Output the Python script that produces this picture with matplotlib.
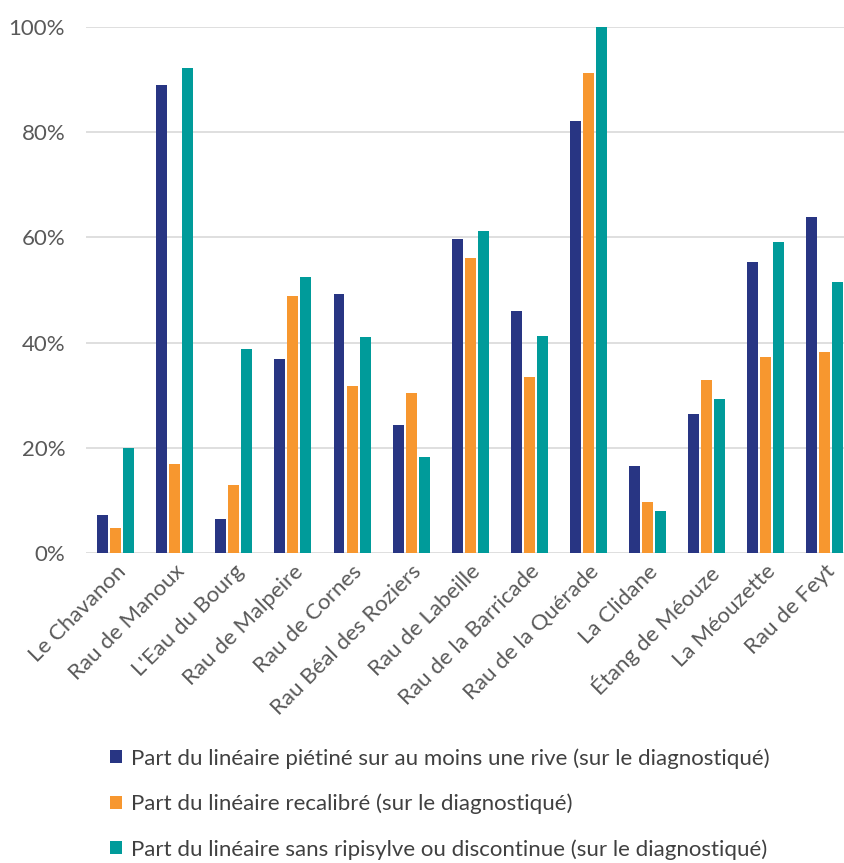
import numpy as np
import matplotlib
matplotlib.use("Agg")
import matplotlib.pyplot as plt
from matplotlib.ticker import PercentFormatter

# Données (parts en %)
cours_eau = [
    "Le Chavanon", "Rau de Manoux", "L'Eau du Bourg", "Rau de Malpeire",
    "Rau de Cornes", "Rau Béal des Roziers", "Rau de Labeille",
    "Rau de la Barricade", "Rau de la Quérade", "La Clidane",
    "Étang de Méouze", "La Méouzette", "Rau de Feyt",
]
pietine = [7.2, 89.0, 6.5, 36.8, 49.3, 24.3, 59.7, 46.1, 82.2, 16.5, 26.5, 55.3, 63.9]
recalibre = [4.8, 17.0, 12.9, 48.8, 31.7, 30.4, 56.0, 33.4, 91.2, 9.7, 32.9, 37.3, 38.2]
sans_ripisylve = [19.9, 92.2, 38.7, 52.4, 41.0, 18.2, 61.2, 41.2, 100.0, 8.0, 29.2, 59.2, 51.6]

series = [
    ("Part du linéaire piétiné sur au moins une rive (sur le diagnostiqué)", pietine, "#283583"),
    ("Part du linéaire recalibré (sur le diagnostiqué)", recalibre, "#F7972F"),
    ("Part du linéaire sans ripisylve ou discontinue (sur le diagnostiqué)", sans_ripisylve, "#009B9A"),
]

plt.rcParams["font.family"] = ["Lato", "DejaVu Sans"]
text_color = "#595959"

fig = plt.figure(figsize=(8.45, 8.63), dpi=100)
ax = fig.add_axes([86 / 845, 1 - 553 / 863, (845 - 86) / 845, (553 - 27) / 863])

x = np.arange(len(cours_eau))
step = 0.22
width = 0.186
for i, (label, values, color) in enumerate(series):
    ax.bar(x + (i - 1) * step, values, width=width, color=color, label=label, zorder=3)

ax.set_ylim(0, 100)
ax.set_xlim(-0.5, 12.34)
ax.set_yticks(np.arange(0, 101, 20))
ax.yaxis.set_major_formatter(PercentFormatter(decimals=0))
ax.grid(axis="y", color="#d9d9d9", linewidth=1.2, zorder=0)
for side in ["top", "right", "left", "bottom"]:
    ax.spines[side].set_visible(False)
ax.tick_params(axis="both", length=0, colors=text_color, labelsize=16)
ax.tick_params(axis="y", pad=15)

ax.set_xticks(x)
ax.set_xticklabels(cours_eau, rotation=45, ha="right", rotation_mode="anchor")
ax.tick_params(axis="x", pad=6)

fig.legend(
    loc="upper left", bbox_to_anchor=(90 / 845, 1 - 728 / 863),
    frameon=False, fontsize=16, labelcolor="#404040",
    handlelength=0.55, handleheight=0.55, handletextpad=0.4,
    labelspacing=1.12,
)

fig.savefig("out.png", dpi=100)
